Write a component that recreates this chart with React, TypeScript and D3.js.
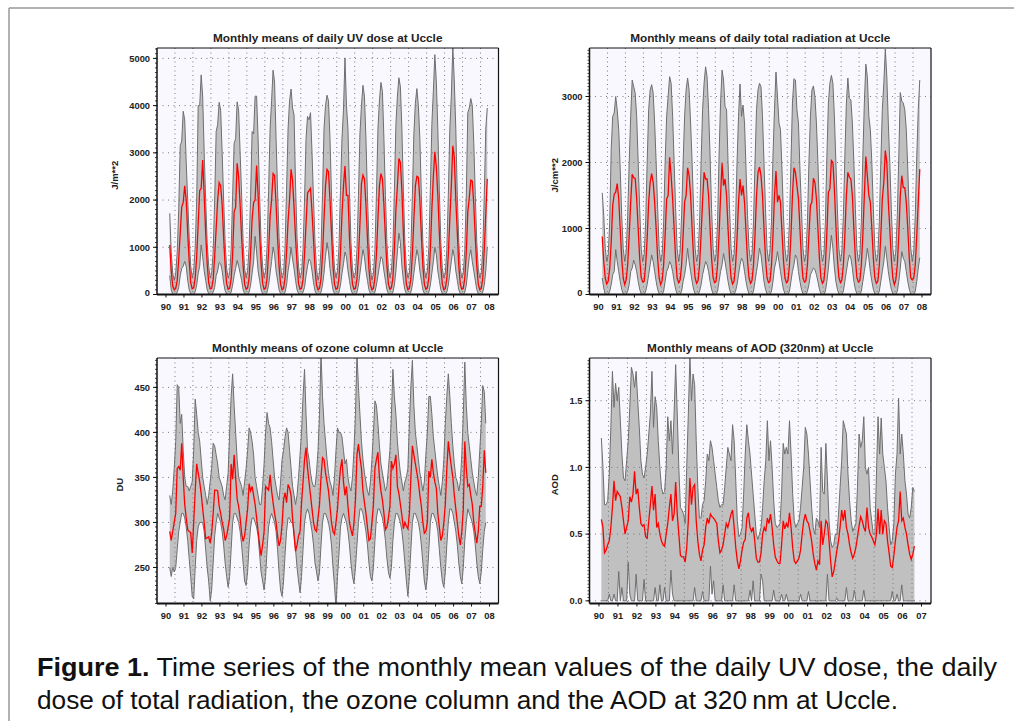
import React from 'react';
import * as d3 from 'd3';

// monthly series, first value = month given in *Start ([year, month index])
const radStart = [1990, 8];
const ozoneStart = [1990, 8];
const aodStart = [1990, 7];

const uvMean = [
  1050, 500, 180, 100,
  130, 300, 750, 1300, 1850, 1950, 2300, 2000, 1300, 700, 250, 120,
  140, 350, 800, 1500, 2200, 2250, 2850, 2100, 1300, 650, 250, 120,
  130, 320, 800, 1400, 2000, 2370, 2300, 1900, 1200, 600, 230, 110,
  130, 330, 850, 1750, 1850, 2780, 2500, 1900, 1200, 600, 220, 110,
  140, 350, 900, 1600, 1950, 2000, 2730, 2100, 1300, 650, 240, 110,
  130, 350, 900, 1650, 2000, 2560, 2520, 1900, 1200, 600, 220, 100,
  130, 350, 900, 1550, 2000, 2650, 2420, 1850, 1200, 650, 230, 110,
  130, 320, 850, 1500, 2150, 2200, 2250, 1750, 1150, 550, 200, 100,
  130, 330, 850, 1600, 2300, 2650, 2600, 2000, 1300, 600, 220, 110,
  130, 350, 900, 1700, 2300, 2720, 2100, 2100, 1200, 600, 220, 110,
  130, 330, 800, 1500, 2350, 2530, 2450, 1900, 1200, 550, 200, 100,
  130, 350, 850, 1600, 2300, 2560, 2450, 1900, 1200, 600, 220, 110,
  140, 350, 950, 1800, 2300, 2880, 2800, 2200, 1300, 600, 220, 100,
  130, 330, 850, 1600, 2300, 2500, 2480, 2000, 1250, 600, 220, 110,
  140, 350, 950, 1800, 2500, 3020, 2700, 2100, 1300, 600, 220, 100,
  130, 330, 850, 1600, 2300, 3150, 2900, 2000, 1300, 600, 220, 110,
  130, 350, 900, 1750, 2050, 2420, 2400, 1900, 1200, 600, 220, 100,
  130, 350, 950, 1700, 2450,
];
const uvMax = [
  1720, 900, 450, 300,
  450, 900, 1800, 3150, 3250, 3880, 3700, 2800, 2000, 1200, 600, 350,
  500, 1000, 2000, 4000, 4000, 4650, 4200, 3000, 2000, 1100, 600, 350,
  450, 900, 2000, 3450, 3600, 4070, 3900, 3000, 2000, 1100, 550, 350,
  450, 950, 2100, 3200, 3300, 4080, 3900, 3000, 2100, 1100, 550, 350,
  500, 1000, 2100, 3450, 3400, 4200, 4200, 3300, 2100, 1100, 600, 350,
  500, 1000, 2200, 3500, 4100, 4750, 4500, 3300, 2200, 1200, 600, 350,
  450, 1000, 2200, 3500, 4100, 4350, 3950, 3800, 2300, 1200, 600, 350,
  450, 950, 2000, 3300, 3770, 3700, 3850, 3000, 2000, 1100, 550, 300,
  450, 950, 2100, 3500, 4000, 4220, 4100, 3300, 2100, 1100, 550, 350,
  500, 1000, 2200, 3300, 3900, 5010, 4000, 3500, 2200, 1100, 550, 350,
  450, 950, 2100, 3400, 4000, 4430, 4200, 3300, 2100, 1100, 550, 300,
  450, 950, 2100, 3500, 4100, 4490, 4300, 3300, 2100, 1100, 550, 350,
  500, 1000, 2200, 3600, 4200, 4590, 4400, 3500, 2200, 1100, 550, 350,
  450, 950, 2100, 3400, 4050, 4360, 4000, 3300, 2100, 1100, 550, 350,
  500, 1000, 2200, 3600, 4300, 5080, 4500, 3500, 2200, 1100, 550, 350,
  450, 950, 2100, 3500, 4200, 5250, 4500, 3500, 2100, 1100, 550, 350,
  450, 950, 2100, 3850, 3950, 4150, 4000, 3200, 2100, 1100, 550, 350,
  450, 950, 2100, 3500, 3950,
];
const uvMin = [
  400, 100, 0, 0,
  0, 50, 150, 400, 550, 600, 700, 600, 300, 100, 20, 0,
  0, 60, 200, 450, 600, 1050, 800, 500, 300, 100, 20, 0,
  0, 50, 150, 400, 500, 680, 650, 500, 250, 80, 10, 0,
  0, 50, 200, 400, 550, 720, 600, 450, 300, 100, 20, 0,
  0, 50, 200, 450, 700, 1230, 900, 500, 300, 100, 20, 0,
  0, 50, 200, 450, 700, 1000, 850, 500, 300, 100, 20, 0,
  0, 50, 200, 500, 700, 1000, 750, 550, 300, 100, 20, 0,
  0, 50, 150, 400, 600, 750, 700, 500, 250, 80, 10, 0,
  0, 50, 200, 450, 800, 1100, 900, 550, 300, 100, 20, 0,
  0, 50, 200, 450, 650, 900, 800, 500, 300, 100, 20, 0,
  0, 50, 200, 450, 700, 950, 800, 500, 300, 100, 20, 0,
  0, 50, 200, 400, 600, 800, 750, 500, 300, 100, 20, 0,
  0, 50, 200, 500, 900, 1300, 1100, 600, 300, 100, 20, 0,
  0, 50, 200, 450, 700, 950, 800, 500, 300, 100, 20, 0,
  0, 50, 200, 450, 700, 1000, 850, 500, 300, 100, 20, 0,
  0, 50, 200, 450, 700, 950, 800, 500, 300, 100, 20, 0,
  0, 50, 200, 500, 800, 950, 700, 500, 300, 100, 20, 0,
  0, 50, 200, 500, 1000,
];

const totMean = [
  880, 500, 250, 160,
  200, 400, 800, 1350, 1520, 1550, 1680, 1450, 1000, 550, 250, 150,
  220, 450, 900, 1400, 1820, 1770, 1760, 1450, 1000, 550, 260, 190,
  200, 450, 850, 1400, 1700, 1830, 1700, 1400, 1000, 550, 250, 150,
  210, 450, 900, 1450, 1500, 2080, 1800, 1450, 1000, 550, 250, 180,
  220, 450, 900, 1400, 1500, 1920, 1800, 1500, 1000, 550, 250, 170,
  210, 450, 900, 1420, 1850, 1750, 1750, 1500, 1000, 550, 260, 180,
  200, 450, 900, 1500, 1990, 1650, 1750, 1500, 1000, 550, 250, 160,
  200, 430, 850, 1400, 1750, 1500, 1650, 1400, 950, 520, 250, 170,
  210, 450, 900, 1500, 1850, 1930, 1800, 1500, 1000, 550, 260, 180,
  200, 450, 900, 1500, 1870, 1400, 1500, 1400, 950, 520, 250, 180,
  210, 450, 900, 1500, 1920, 1850, 1650, 1450, 1000, 550, 250, 190,
  210, 450, 900, 1350, 1400, 1760, 1700, 1450, 1000, 550, 250, 170,
  210, 450, 950, 1550, 1600, 2030, 2000, 1600, 1050, 550, 260, 180,
  220, 450, 900, 1500, 1850, 1780, 1750, 1500, 1000, 550, 260, 190,
  210, 450, 900, 1500, 2090, 1800, 1500, 1400, 1000, 550, 250, 170,
  200, 450, 900, 1450, 1700, 2180, 2000, 1400, 1000, 550, 250, 150,
  220, 450, 900, 1500, 1800, 1620, 1620, 1400, 1000, 550, 250, 220,
  250, 450, 900, 1400, 1900,
];
const totMax = [
  1540, 1200, 700, 500,
  600, 1100, 2200, 2700, 2750, 3000, 2800, 2500, 1900, 1200, 700, 500,
  650, 1200, 2000, 2700, 3250, 3150, 3050, 2700, 2000, 1300, 700, 500,
  600, 1100, 2000, 2800, 3100, 3180, 3050, 2600, 2000, 1300, 700, 500,
  600, 1100, 2000, 2700, 3000, 3300, 3200, 2700, 2000, 1300, 700, 500,
  650, 1200, 2000, 2700, 3100, 3280, 3100, 2600, 2000, 1300, 700, 500,
  600, 1100, 2000, 2800, 3200, 3450, 3300, 2800, 2100, 1300, 700, 500,
  600, 1100, 2100, 2900, 3400, 3250, 2850, 2800, 2000, 1300, 700, 500,
  600, 1100, 2000, 2700, 3190, 2700, 2870, 2600, 1900, 1200, 700, 500,
  600, 1100, 2000, 2800, 3100, 3200, 3150, 2700, 2000, 1300, 700, 500,
  650, 1100, 2100, 2800, 3370, 3000, 2600, 2500, 1900, 1200, 700, 500,
  600, 1100, 2000, 2900, 3270, 3250, 2800, 2600, 1900, 1300, 700, 500,
  600, 1100, 2000, 2700, 3100, 3160, 3000, 2600, 2000, 1300, 700, 500,
  600, 1100, 2100, 2900, 3200, 3320, 3200, 2700, 2000, 1300, 700, 500,
  650, 1200, 2100, 2900, 3280, 2970, 2950, 2600, 2000, 1300, 700, 500,
  600, 1100, 2100, 2900, 3490, 3300, 2700, 2500, 2000, 1300, 700, 500,
  600, 1100, 2000, 2800, 3200, 3720, 3300, 2600, 2000, 1300, 700, 500,
  650, 1200, 2100, 3060, 2930, 2900, 2800, 2500, 1900, 1200, 700, 500,
  650, 1200, 2100, 2800, 3250,
];
const totMin = [
  250, 100, 0, 0,
  0, 50, 150, 300, 350, 680, 500, 350, 200, 80, 10, 0,
  0, 50, 150, 350, 400, 520, 450, 350, 200, 80, 10, 0,
  0, 50, 150, 300, 450, 600, 500, 350, 200, 80, 10, 0,
  0, 50, 200, 350, 400, 500, 450, 350, 200, 80, 10, 0,
  0, 50, 200, 300, 450, 700, 500, 350, 200, 80, 10, 0,
  0, 50, 150, 300, 400, 500, 450, 350, 200, 80, 10, 0,
  0, 50, 200, 350, 450, 620, 500, 350, 200, 80, 10, 0,
  0, 50, 150, 300, 450, 550, 500, 350, 200, 80, 10, 0,
  0, 50, 200, 350, 500, 700, 600, 400, 200, 80, 10, 0,
  0, 50, 200, 400, 500, 650, 500, 350, 200, 80, 10, 0,
  0, 50, 200, 350, 450, 600, 550, 350, 200, 80, 10, 0,
  0, 50, 150, 300, 350, 400, 380, 300, 200, 80, 10, 0,
  0, 50, 200, 400, 650, 900, 700, 400, 200, 80, 10, 0,
  0, 50, 200, 350, 500, 600, 550, 400, 200, 80, 10, 0,
  0, 50, 200, 350, 500, 700, 550, 350, 200, 80, 10, 0,
  0, 50, 200, 350, 500, 730, 550, 350, 200, 80, 10, 0,
  0, 50, 200, 400, 650, 550, 500, 350, 200, 80, 10, 0,
  0, 50, 200, 400, 560,
];

const ozMean = [
  290, 280, 290, 300,
  310, 360, 362, 358, 388, 350, 320, 305, 292, 290, 289, 266,
  300, 335, 365, 355, 345, 332, 315, 300, 282, 283, 284, 277,
  288, 310, 336, 336, 335, 318, 310, 300, 293, 280, 285, 295,
  305, 365, 348, 375, 350, 326, 318, 305, 288, 279, 285, 300,
  315, 343, 335, 340, 330, 320, 305, 290, 275, 263, 275, 290,
  340, 338, 336, 353, 335, 322, 310, 300, 285, 274, 280, 298,
  325, 333, 322, 342, 338, 330, 305, 285, 268, 275, 285, 290,
  322, 345, 370, 383, 360, 345, 330, 315, 300, 292, 290, 305,
  320, 350, 372, 370, 355, 345, 335, 318, 300, 290, 287, 300,
  315, 340, 360, 370, 345, 330, 340, 318, 300, 292, 285, 300,
  325, 375, 387, 372, 360, 335, 322, 310, 295, 280, 282, 300,
  320, 360, 370, 378, 350, 335, 325, 310, 292, 295, 305, 318,
  368, 360, 365, 375, 340, 332, 320, 308, 293, 300, 296, 293,
  310, 350, 385, 375, 365, 355, 345, 330, 318, 300, 288, 290,
  300, 357, 350, 370, 355, 345, 338, 310, 295, 280, 285, 300,
  320, 360, 390, 375, 362, 350, 330, 315, 300, 285, 275, 290,
  315, 390, 360, 340, 342, 330, 320, 300, 288, 277, 290, 318,
  318, 340, 380, 355,
];
const ozMax = [
  330, 320, 335, 360,
  390, 453, 450, 410, 420, 380, 350, 340, 340, 335, 340, 345,
  380, 437, 420, 400, 390, 370, 350, 340, 330, 320, 330, 345,
  360, 388, 385, 375, 365, 350, 345, 340, 330, 325, 340, 355,
  400, 440, 465, 430, 400, 370, 350, 345, 340, 330, 345, 360,
  380, 405, 400, 390, 375, 350, 340, 330, 320, 320, 340, 365,
  400, 422, 410, 405, 390, 370, 350, 340, 330, 325, 345, 370,
  380, 395, 405, 400, 380, 360, 340, 330, 320, 330, 350, 375,
  400, 440, 470, 420, 380, 370, 355, 345, 340, 340, 355, 380,
  420, 488, 440, 410, 390, 370, 355, 345, 340, 330, 350, 380,
  405, 400, 400, 395, 380, 365, 370, 350, 340, 335, 350, 380,
  420, 488, 450, 420, 390, 370, 355, 345, 335, 330, 345, 370,
  400, 435, 430, 410, 385, 365, 355, 345, 335, 340, 360, 380,
  420, 470, 440, 420, 390, 370, 355, 345, 335, 345, 350, 360,
  410, 450, 480, 430, 400, 385, 370, 355, 345, 335, 345, 375,
  400, 440, 440, 420, 395, 380, 365, 350, 340, 330, 345, 370,
  410, 440, 465, 440, 410, 385, 365, 350, 345, 335, 345, 375,
  420, 478, 430, 400, 385, 370, 355, 345, 335, 330, 350, 380,
  410, 452, 445, 410,
];
const ozMin = [
  250, 240, 250, 245,
  250, 270, 290, 300, 310, 310, 305, 295, 280, 260, 240, 218,
  215, 250, 280, 295, 300, 300, 300, 290, 270, 250, 235, 213,
  225, 255, 285, 300, 310, 305, 300, 290, 275, 255, 240, 228,
  240, 270, 300, 310, 310, 305, 300, 290, 275, 255, 235, 230,
  245, 275, 295, 305, 305, 300, 295, 285, 265, 245, 235, 225,
  240, 270, 295, 305, 310, 305, 300, 290, 270, 245, 225, 218,
  235, 265, 290, 305, 305, 300, 300, 290, 270, 250, 235, 222,
  240, 270, 300, 310, 315, 310, 300, 290, 275, 255, 245, 235,
  245, 275, 300, 310, 310, 305, 300, 290, 275, 250, 230, 205,
  240, 265, 295, 305, 310, 305, 300, 290, 275, 255, 240, 232,
  250, 275, 300, 315, 315, 310, 300, 290, 275, 255, 240, 235,
  250, 280, 305, 315, 315, 310, 305, 295, 280, 260, 245, 238,
  250, 280, 300, 310, 310, 305, 300, 290, 275, 255, 235, 218,
  240, 270, 300, 310, 310, 305, 300, 290, 275, 255, 235, 225,
  240, 270, 300, 310, 310, 305, 300, 290, 270, 250, 235, 228,
  245, 275, 300, 315, 315, 310, 300, 290, 275, 255, 240, 232,
  250, 280, 300, 315, 310, 305, 300, 290, 275, 255, 240, 232,
  245, 270, 290, 300,
];

const aodMean = [
  0.61, 0.55, 0.36, 0.38, 0.42,
  0.45, 0.55, 0.7, 0.9, 0.75, 0.82, 0.8, 0.78, 0.7, 0.6, 0.5, 0.55,
  0.6, 0.78, 0.74, 0.8, 0.97, 0.8, 0.84, 0.7, 0.58, 0.56, 0.57, 0.48,
  0.47, 0.6, 0.72, 0.86, 0.68, 0.8, 0.55, 0.58, 0.5, 0.45, 0.42, 0.41,
  0.5, 0.58, 0.7, 0.8, 0.6, 0.65, 0.89, 0.65, 0.5, 0.34, 0.33, 0.33,
  0.29, 0.4, 0.6, 0.92, 0.72, 0.85, 0.87, 0.6, 0.45, 0.35, 0.3, 0.38,
  0.42, 0.55, 0.62, 0.58, 0.65, 0.63, 0.62, 0.6, 0.58, 0.45, 0.36, 0.38,
  0.42, 0.5, 0.58, 0.55, 0.6, 0.65, 0.68, 0.55, 0.4, 0.3, 0.24, 0.3,
  0.38, 0.44, 0.46, 0.62, 0.66, 0.55, 0.52, 0.55, 0.45, 0.32, 0.29, 0.29,
  0.36, 0.5, 0.55, 0.52, 0.62, 0.58, 0.65, 0.55, 0.42, 0.33, 0.3, 0.28,
  0.28, 0.42, 0.6, 0.54, 0.58, 0.55, 0.66, 0.55, 0.4, 0.3, 0.28, 0.3,
  0.32, 0.38, 0.5, 0.6, 0.65, 0.6, 0.58, 0.52, 0.45, 0.35, 0.28, 0.23,
  0.3, 0.27, 0.6, 0.42, 0.5, 0.6, 0.58, 0.45, 0.3, 0.18, 0.22, 0.3,
  0.38, 0.45, 0.55, 0.68, 0.6, 0.68, 0.55, 0.5, 0.42, 0.36, 0.32, 0.35,
  0.4, 0.48, 0.56, 0.63, 0.6, 0.55, 0.52, 0.7, 0.55, 0.5, 0.48, 0.45,
  0.42, 0.5, 0.69, 0.5, 0.68, 0.5, 0.6, 0.58, 0.45, 0.36, 0.26, 0.25,
  0.34, 0.45, 0.55, 0.6, 0.82, 0.6, 0.62, 0.55, 0.5, 0.42, 0.35, 0.31,
  0.35, 0.41,
];
const aodMax = [
  1.22, 1.0, 0.72, 0.72, 0.75,
  0.95, 1.3, 1.72, 1.45, 1.63, 1.5, 1.6, 1.35, 1.1, 0.92, 0.9, 1.05,
  1.2, 1.45, 1.75, 1.7, 1.6, 1.72, 1.5, 1.3, 1.05, 0.95, 0.92, 1.0,
  1.1, 1.25, 1.4, 1.72, 1.3, 1.53, 1.45, 1.2, 1.0, 0.85, 0.8, 0.82,
  1.0, 1.38, 1.2, 1.35, 1.1, 1.4, 1.77, 1.4, 1.0, 0.7, 0.68, 0.65,
  0.58, 1.0, 1.4, 1.83, 1.5, 1.7, 1.62, 1.2, 0.85, 0.62, 0.62, 0.72,
  0.75, 0.9, 1.1, 1.05, 1.2, 1.15, 1.05, 0.95, 0.85, 0.75, 0.7, 0.72,
  0.72, 0.85, 1.0, 1.15, 1.1, 1.05, 1.32, 1.2, 0.9, 0.6, 0.48, 0.5,
  0.55, 0.8, 1.1, 1.32, 1.2, 1.1, 0.95, 0.8, 0.65, 0.5, 0.46, 0.5,
  0.55, 0.7, 0.9, 1.05, 1.35, 1.05, 1.2, 1.0, 0.75, 0.58, 0.55, 0.56,
  0.58, 0.8, 1.18, 1.1, 1.15, 1.1, 1.35, 1.1, 0.8, 0.6, 0.55, 0.58,
  0.6, 0.7, 0.85, 1.0, 1.3, 1.25, 1.1, 0.9, 0.7, 0.55, 0.5, 0.62,
  0.6, 0.55, 1.15, 0.82, 0.8, 1.18, 0.9, 0.6, 0.45, 0.4, 0.42, 0.5,
  0.5, 0.65, 0.85, 1.05, 1.35, 1.3, 1.25, 0.95, 0.75, 0.6, 0.52, 0.55,
  0.58, 0.85, 1.25, 1.15, 1.2, 1.38, 1.0, 0.95, 1.0, 0.7, 0.6, 0.5,
  0.5, 0.95, 1.38, 1.1, 1.37, 1.1, 1.0, 0.9, 0.7, 0.55, 0.42, 0.45,
  0.58, 0.95, 1.1, 1.52, 1.1, 1.25, 1.1, 0.9, 0.8, 0.65, 0.62, 0.7,
  0.85, 0.82,
];
const aodMin = [
  0, 0, 0, 0, 0,
  0.05, 0, 0, 0.05, 0, 0, 0.22, 0, 0.1, 0, 0, 0,
  0.29, 0.05, 0, 0, 0, 0.2, 0, 0, 0, 0, 0.16, 0,
  0, 0, 0, 0, 0, 0.1, 0, 0, 0.12, 0, 0, 0.1,
  0, 0, 0, 0.23, 0.05, 0, 0, 0, 0, 0, 0, 0,
  0, 0, 0, 0, 0, 0, 0.1, 0, 0, 0, 0, 0.07,
  0, 0, 0, 0, 0.26, 0.05, 0.15, 0, 0, 0, 0, 0,
  0.12, 0, 0, 0, 0, 0, 0, 0.12, 0, 0, 0, 0,
  0, 0, 0, 0, 0, 0.08, 0, 0.15, 0, 0, 0, 0,
  0.2, 0.15, 0, 0, 0, 0, 0, 0, 0.08, 0, 0, 0,
  0, 0.05, 0, 0, 0.05, 0, 0, 0, 0, 0, 0, 0,
  0, 0.05, 0, 0, 0, 0, 0.07, 0, 0, 0, 0, 0,
  0, 0, 0, 0, 0, 0, 0.2, 0, 0, 0, 0, 0,
  0.02, 0, 0, 0, 0, 0, 0.1, 0, 0, 0, 0, 0.08,
  0, 0, 0, 0, 0, 0.08, 0, 0, 0, 0, 0, 0,
  0, 0, 0, 0, 0, 0, 0, 0, 0, 0, 0, 0.07,
  0, 0, 0.05, 0, 0, 0.12, 0, 0, 0, 0, 0, 0,
  0, 0,
];

const yearLabels = ['90', '91', '92', '93', '94', '95', '96', '97', '98', '99',
  '00', '01', '02', '03', '04', '05', '06', '07', '08'];

const uvTicks = [0, 1000, 2000, 3000, 4000, 5000];
const totTicks = [0, 1000, 2000, 3000];
const ozTicks = [250, 300, 350, 400, 450];
const aodTicks = [0, 0.5, 1.0, 1.5];

const FONT = '"Liberation Sans", Arial, Helvetica, sans-serif';

type Pt = { t: number; mean: number; lo: number; hi: number };

function toPoints(start: number[], mean: number[], lo: number[], hi: number[]): Pt[] {
  return mean.map((m, i) => ({
    t: start[0] + (start[1] + i + 0.5) / 12,
    mean: m,
    lo: lo[i],
    hi: hi[i],
  }));
}

type PanelProps = {
  id: string;
  left: number;
  top: number;
  width: number;
  height: number;
  title: string;
  yLabel: string;
  yLabelX: number;
  yDomain: [number, number];
  yTicks: number[];
  yFormat: (v: number) => string;
  minorStep: number;
  xEnd: number;
  data: Pt[];
};

function Panel(p: PanelProps) {
  const x = d3.scaleLinear().domain([1990, p.xEnd]).range([0, p.width]);
  const y = d3.scaleLinear().domain(p.yDomain).range([p.height, 0]);

  const band = d3.area<Pt>().x(d => x(d.t)).y0(d => y(d.lo)).y1(d => y(d.hi));
  const hiLine = d3.line<Pt>().x(d => x(d.t)).y(d => y(d.hi));
  const loLine = d3.line<Pt>().x(d => x(d.t)).y(d => y(d.lo));
  const meanLine = d3.line<Pt>().x(d => x(d.t)).y(d => y(d.mean));

  const years = d3.range(1991, p.xEnd);
  const labels = yearLabels.slice(0, p.xEnd - 1990);
  const minors = d3.range(
    Math.ceil(p.yDomain[0] / p.minorStep) * p.minorStep,
    p.yDomain[1],
    p.minorStep
  );

  return (
    <g transform={`translate(${p.left},${p.top})`}>
      <defs>
        <clipPath id={`clip-${p.id}`}>
          <rect x={0} y={0} width={p.width} height={p.height} />
        </clipPath>
      </defs>
      <rect x={0} y={0} width={p.width} height={p.height} fill="#f8f8fe" />
      <g clipPath={`url(#clip-${p.id})`}>
        <path d={band(p.data) || ''} fill="#c0c0c0" stroke="none" />
        {years.map(yr => (
          <line key={`vg${yr}`} x1={x(yr)} x2={x(yr)} y1={0} y2={p.height}
            stroke="#7a7a7a" strokeWidth={1} strokeDasharray="1,3.5" />
        ))}
        {p.yTicks.filter(v => y(v) > 1 && y(v) < p.height - 1).map(v => (
          <line key={`hg${v}`} x1={0} x2={p.width} y1={y(v)} y2={y(v)}
            stroke="#7a7a7a" strokeWidth={1} strokeDasharray="1,4.5" />
        ))}
        <path d={hiLine(p.data) || ''} fill="none" stroke="#6e6e6e" strokeWidth={1} />
        <path d={loLine(p.data) || ''} fill="none" stroke="#6e6e6e" strokeWidth={1} />
        <path d={meanLine(p.data) || ''} fill="none" stroke="#ff0000" strokeWidth={1.3} />
      </g>
      {/* frame */}
      <line x1={0} x2={p.width} y1={0} y2={0} stroke="#111" strokeWidth={1} />
      <line x1={p.width} x2={p.width} y1={0} y2={p.height} stroke="#111" strokeWidth={1.2} />
      <line x1={0} x2={0} y1={0} y2={p.height} stroke="#111" strokeWidth={1.5} />
      <line x1={0} x2={p.width} y1={p.height} y2={p.height} stroke="#111" strokeWidth={2} />
      {minors.map(v => (
        <line key={`mt${v}`} x1={-2} x2={0} y1={y(v)} y2={y(v)} stroke="#111" strokeWidth={0.8} />
      ))}
      {p.yTicks.map(v => (
        <g key={`yt${v}`}>
          <line x1={-4} x2={0} y1={y(v)} y2={y(v)} stroke="#111" strokeWidth={1} />
          <text x={-7} y={Math.min(y(v), p.height - 2)} dy="0.35em" textAnchor="end" fontFamily={FONT}
            fontWeight="bold" fontSize={9.3} fill="#222">{p.yFormat(v)}</text>
        </g>
      ))}
      {labels.map((lab, i) => (
        <g key={`xt${lab}`}>
          <line x1={x(1990.5 + i)} x2={x(1990.5 + i)} y1={p.height} y2={p.height + 3}
            stroke="#111" strokeWidth={1} />
          <text x={x(1990.5 + i)} y={p.height + 15.5} textAnchor="middle" fontFamily={FONT}
            fontWeight="bold" fontSize={9.3} fill="#222">{lab}</text>
        </g>
      ))}
      <text x={p.width / 2} y={-6} textAnchor="middle" fontFamily={FONT}
        fontWeight="bold" fontSize={11.8} fill="#222">{p.title}</text>
      <text transform={`translate(${p.yLabelX},${p.height / 2 + 4}) rotate(-90)`} textAnchor="middle"
        fontFamily={FONT} fontWeight="bold" fontSize={9.5} fill="#222">{p.yLabel}</text>
    </g>
  );
}

export default function App() {
  const uvData = toPoints(radStart, uvMean, uvMin, uvMax);
  const totData = toPoints(radStart, totMean, totMin, totMax);
  const ozData = toPoints(ozoneStart, ozMean, ozMin, ozMax);
  const aodData = toPoints(aodStart, aodMean, aodMin, aodMax);

  return (
    <svg width={1014} height={721} style={{ position: 'absolute', left: 0, top: 0, background: '#fff' }}>
      <line x1={9} x2={1014} y1={8} y2={8} stroke="#999" strokeWidth={1.5} />
      <line x1={9} x2={9} y1={8} y2={721} stroke="#999" strokeWidth={1.5} />

      <Panel id="uv" left={157} top={48} width={341.5} height={246.5}
        title="Monthly means of daily UV dose at Uccle" yLabel="J/m**2" yLabelX={-39}
        yDomain={[0, 5220]} yTicks={uvTicks} yFormat={v => String(v)} minorStep={100}
        xEnd={2009} data={uvData} />
      <Panel id="tot" left={589.5} top={48} width={341.5} height={246.5}
        title="Monthly means of daily total radiation at Uccle" yLabel="J/cm**2" yLabelX={-32}
        yDomain={[0, 3735]} yTicks={totTicks} yFormat={v => String(v)} minorStep={50}
        xEnd={2009} data={totData} />
      <Panel id="oz" left={157} top={358} width={341.5} height={245.5}
        title="Monthly means of ozone column at Uccle" yLabel="DU" yLabelX={-34}
        yDomain={[210, 482.6]} yTicks={ozTicks} yFormat={v => String(v)} minorStep={5}
        xEnd={2009} data={ozData} />
      <Panel id="aod" left={589.5} top={358} width={341.5} height={245.5}
        title="Monthly means of AOD (320nm) at Uccle" yLabel="AOD" yLabelX={-32}
        yDomain={[-0.02, 1.82]} yTicks={aodTicks} yFormat={v => v.toFixed(1)} minorStep={0.025}
        xEnd={2008} data={aodData} />

      <text x={37} y={676} fontFamily={FONT} fontSize={26} fill="#111"
        textLength={960} lengthAdjust="spacingAndGlyphs">
        <tspan fontWeight="bold">Figure 1.</tspan> Time series of the monthly mean values of the daily UV dose, the daily
      </text>
      <text x={37} y={709} fontFamily={FONT} fontSize={26} fill="#111"
        textLength={861} lengthAdjust="spacingAndGlyphs">
        dose of total radiation, the ozone column and the AOD at 320{'\u2009'}nm at Uccle.
      </text>
    </svg>
  );
}
